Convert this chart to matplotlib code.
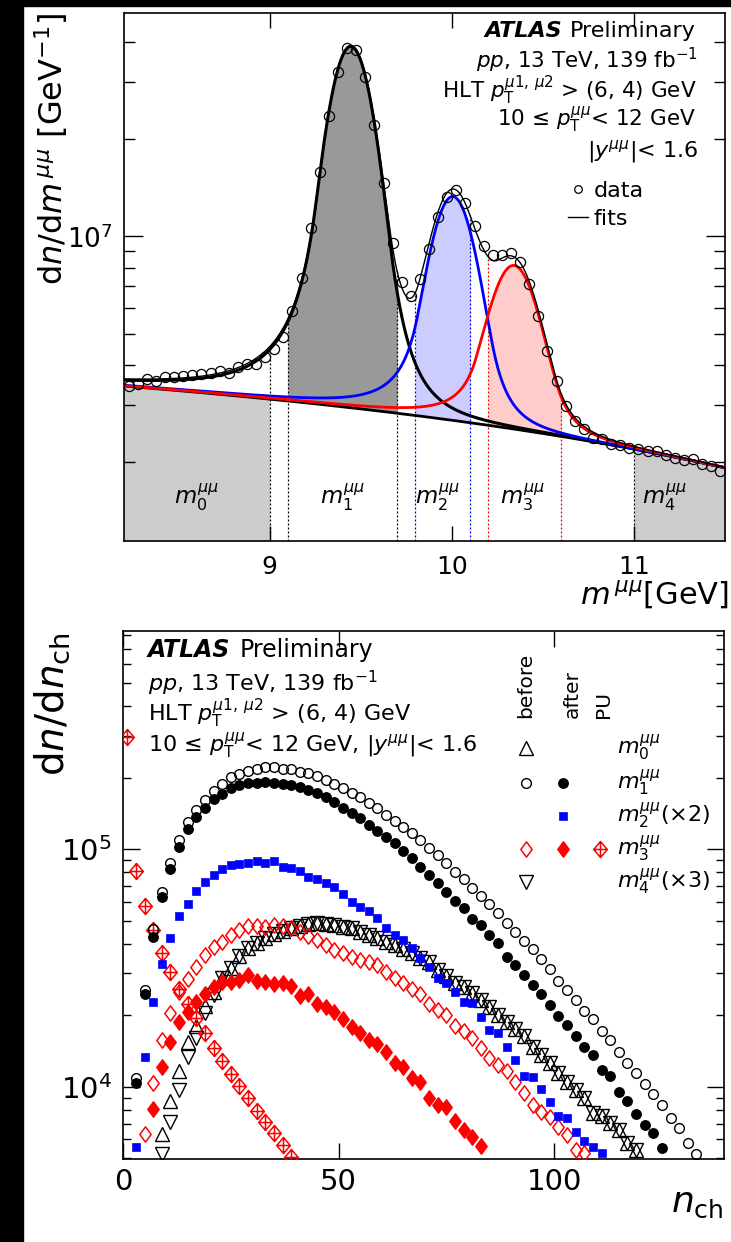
import numpy as np
import matplotlib
matplotlib.use("Agg")
import matplotlib.pyplot as plt
from matplotlib.path import Path
from matplotlib.patches import Rectangle
from matplotlib.ticker import FixedLocator, NullLocator, LogLocator, NullFormatter

plt.rcParams['font.family'] = ['DejaVu Sans']
plt.rcParams['mathtext.fontset'] = 'dejavusans'

# ======================= DATA : top panel =======================
mass_bin_centers = [8.225, 8.275, 8.325, 8.375, 8.425, 8.475, 8.525, 8.575, 8.625, 8.675,
                    8.725, 8.775, 8.825, 8.875, 8.925, 8.975, 9.025, 9.075, 9.125, 9.175,
                    9.225, 9.275, 9.325, 9.375, 9.425, 9.475, 9.525, 9.575, 9.625, 9.675,
                    9.725, 9.775, 9.825, 9.875, 9.925, 9.975, 10.025, 10.075, 10.125, 10.175,
                    10.225, 10.275, 10.325, 10.375, 10.425, 10.475, 10.525, 10.575, 10.625, 10.675,
                    10.725, 10.775, 10.825, 10.875, 10.925, 10.975, 11.025, 11.075, 11.125, 11.175,
                    11.225, 11.275, 11.325, 11.375, 11.425, 11.475]
mass_data = [3.44e6, 3.50e6, 3.63e6, 3.57e6, 3.68e6, 3.68e6, 3.70e6, 3.73e6, 3.75e6, 3.79e6,
             3.84e6, 3.79e6, 3.93e6, 4.04e6, 4.04e6, 4.22e6, 4.48e6, 4.89e6, 5.86e6, 7.45e6,
             1.06e7, 1.58e7, 2.36e7, 3.22e7, 3.83e7, 3.78e7, 3.12e7, 2.22e7, 1.46e7, 9.53e6,
             7.21e6, 6.56e6, 7.39e6, 9.16e6, 1.148e7, 1.325e7, 1.397e7, 1.27e7, 1.08e7, 9.37e6,
             8.73e6, 8.79e6, 8.87e6, 8.32e6, 7.13e6, 5.68e6, 4.43e6, 3.56e6, 2.99e6, 2.68e6,
             2.53e6, 2.38e6, 2.36e6, 2.27e6, 2.26e6, 2.21e6, 2.19e6, 2.165e6, 2.165e6, 2.11e6,
             2.06e6, 2.03e6, 2.05e6, 1.98e6, 1.945e6, 1.88e6]

# fit model: quadratic background in (m - 8.2) + 3 Crystal-Ball peaks
bg_coef = [3.44e6, -0.3553e6, -0.0319e6]
peak_mu = [9.445, 10.005, 10.34]
peak_sigma = [0.118, 0.120, 0.130]
peak_amp = [3.58e7, 1.06e7, 5.6e6]
tail_left = [1.6, 2.0]     # alpha, n
tail_right = [1.8, 4.0]    # alpha, n

sideband_lo = [8.2, 9.0]
window_1 = [9.1, 9.7]
window_2 = [9.8, 10.1]
window_3 = [10.2, 10.6]
sideband_hi = [11.0, 11.5]
window_labels = [r'$m_{\mathit{0}}^{\mu\mu}$', r'$m_{\mathit{1}}^{\mu\mu}$', r'$m_{\mathit{2}}^{\mu\mu}$',
                 r'$m_{\mathit{3}}^{\mu\mu}$', r'$m_{\mathit{4}}^{\mu\mu}$']
window_label_x = [8.6, 9.4, 9.92, 10.39, 11.17]

# ======================= DATA : bottom panel =======================
n_m1_before = list(range(3, 134, 2))
m1_before = [1.09e4, 2.55e4, 4.6e4, 6.63e4, 8.73e4, 1.094e5, 1.307e5, 1.464e5, 1.613e5, 1.767e5,
             1.885e5, 2.01e5, 2.075e5, 2.14e5, 2.17e5, 2.215e5, 2.215e5, 2.18e5, 2.18e5, 2.12e5,
             2.09e5, 2.04e5, 1.96e5, 1.885e5, 1.81e5, 1.73e5, 1.666e5, 1.563e5, 1.489e5, 1.394e5,
             1.316e5, 1.245e5, 1.167e5, 1.094e5, 1.009e5, 9.46e4, 8.73e4, 8.05e4, 7.48e4, 6.86e4,
             6.36e4, 5.89e4, 5.41e4, 4.88e4, 4.5e4, 4.12e4, 3.79e4, 3.46e4, 3.12e4, 2.8e4,
             2.55e4, 2.33e4, 2.09e4, 1.92e4, 1.72e4, 1.58e4, 1.40e4, 1.26e4, 1.145e4, 1.023e4,
             9.31e3, 8.37e3, 7.36e3, 6.68e3, 5.81e3, 5.21e3]
n_m1_after = list(range(3, 126, 2))
m1_after = [1.04e4, 2.45e4, 4.28e4, 6.28e4, 8.24e4, 1.02e5, 1.213e5, 1.364e5, 1.489e5, 1.625e5,
            1.71e5, 1.807e5, 1.866e5, 1.897e5, 1.91e5, 1.927e5, 1.91e5, 1.885e5, 1.866e5, 1.837e5,
            1.78e5, 1.72e5, 1.666e5, 1.586e5, 1.489e5, 1.418e5, 1.351e5, 1.266e5, 1.198e5, 1.124e5,
            1.059e5, 9.86e4, 9.17e4, 8.45e4, 7.8e4, 7.2e4, 6.63e4, 6.07e4, 5.64e4, 5.07e4,
            4.8e4, 4.35e4, 4.02e4, 3.53e4, 3.26e4, 2.95e4, 2.68e4, 2.45e4, 2.21e4, 1.99e4,
            1.82e4, 1.64e4, 1.47e4, 1.36e4, 1.18e4, 1.11e4, 9.53e3, 8.71e3, 7.67e3, 6.9e3,
            6.37e3, 5.5e3]
n_m2_after = list(range(3, 112, 2))
m2_after_x2 = [5.56e3, 1.33e4, 2.27e4, 3.28e4, 4.22e4, 5.24e4, 5.86e4, 6.7e4, 7.26e4, 7.8e4,
               8.24e4, 8.59e4, 8.67e4, 8.79e4, 8.96e4, 8.73e4, 8.96e4, 8.4e4, 8.32e4, 8.13e4,
               7.67e4, 7.5e4, 7.2e4, 6.92e4, 6.46e4, 6.01e4, 5.7e4, 5.51e4, 5.12e4, 4.65e4,
               4.35e4, 4.15e4, 3.83e4, 3.48e4, 3.2e4, 2.86e4, 2.73e4, 2.5e4, 2.28e4, 2.25e4,
               1.96e4, 1.74e4, 1.68e4, 1.47e4, 1.30e4, 1.11e4, 1.10e4, 9.75e3, 8.65e3, 7.53e3,
               7.36e3, 6.43e3, 5.93e3, 5.56e3, 5.25e3]
n_m3_before = list(range(5, 108, 2))
m3_before = [6.31e3, 1.04e4, 1.57e4, 2.04e4, 2.5e4, 2.83e4, 3.2e4, 3.58e4, 3.89e4, 4.08e4,
             4.35e4, 4.57e4, 4.75e4, 4.77e4, 4.72e4, 4.8e4, 4.77e4, 4.65e4, 4.5e4, 4.32e4,
             4.15e4, 3.95e4, 3.77e4, 3.65e4, 3.53e4, 3.42e4, 3.36e4, 3.26e4, 3.05e4, 2.86e4,
             2.73e4, 2.57e4, 2.47e4, 2.23e4, 2.1e4, 2.0e4, 1.8e4, 1.71e4, 1.6e4, 1.45e4,
             1.32e4, 1.23e4, 1.16e4, 1.05e4, 9.38e3, 8.37e3, 7.85e3, 7.48e3, 6.79e3, 6.27e3,
             5.41e3, 5.27e3]
n_m3_after = list(range(7, 84, 2))
m3_after = [8.04e3, 1.21e4, 1.55e4, 1.88e4, 2.07e4, 2.28e4, 2.47e4, 2.62e4, 2.75e4, 2.75e4,
            2.81e4, 2.95e4, 2.8e4, 2.77e4, 2.71e4, 2.73e4, 2.66e4, 2.41e4, 2.45e4, 2.23e4,
            2.17e4, 2.07e4, 1.92e4, 1.79e4, 1.68e4, 1.58e4, 1.51e4, 1.40e4, 1.26e4, 1.21e4,
            1.085e4, 1.05e4, 9.0e3, 8.37e3, 8.24e3, 7.2e3, 6.58e3, 6.16e3, 5.62e3]
n_m3_pu = list(range(1, 40, 2))
m3_pu = [2.97e5, 8.13e4, 5.78e4, 4.57e4, 3.66e4, 3.05e4, 2.57e4, 2.24e4, 1.94e4, 1.68e4,
         1.45e4, 1.29e4, 1.13e4, 1.007e4, 8.93e3, 7.92e3, 7.08e3, 6.37e3, 5.68e3, 5.07e3]
n_m0_before = list(range(9, 120, 2))
m0_before = [6.31e3, 8.73e3, 1.16e4, 1.55e4, 1.8e4, 2.19e4, 2.5e4, 2.86e4, 3.16e4, 3.55e4,
             3.83e4, 4.05e4, 4.22e4, 4.4e4, 4.54e4, 4.65e4, 4.75e4, 4.84e4, 4.88e4, 4.84e4,
             4.8e4, 4.72e4, 4.65e4, 4.5e4, 4.35e4, 4.22e4, 4.08e4, 3.95e4, 3.79e4, 3.65e4,
             3.48e4, 3.36e4, 3.1e4, 2.93e4, 2.74e4, 2.64e4, 2.49e4, 2.33e4, 2.17e4, 2.0e4,
             1.88e4, 1.75e4, 1.64e4, 1.47e4, 1.36e4, 1.26e4, 1.14e4, 1.05e4, 9.68e3, 8.93e3,
             7.73e3, 7.53e3, 7.02e3, 6.58e3, 5.78e3, 5.41e3]
n_m4_before = list(range(9, 120, 2))
m4_before_x3 = [5.21e3, 7.13e3, 9.68e3, 1.34e4, 1.61e4, 2.04e4, 2.43e4, 2.86e4, 3.16e4, 3.55e4,
                3.83e4, 4.05e4, 4.22e4, 4.4e4, 4.54e4, 4.65e4, 4.75e4, 4.84e4, 4.88e4, 4.84e4,
                4.8e4, 4.72e4, 4.65e4, 4.5e4, 4.35e4, 4.22e4, 4.08e4, 3.95e4, 3.79e4, 3.65e4,
                3.48e4, 3.36e4, 3.1e4, 2.93e4, 2.74e4, 2.64e4, 2.49e4, 2.33e4, 2.17e4, 2.0e4,
                1.88e4, 1.75e4, 1.64e4, 1.47e4, 1.36e4, 1.26e4, 1.14e4, 1.05e4, 9.68e3, 8.93e3,
                7.73e3, 7.53e3, 7.02e3, 6.58e3, 5.78e3, 5.41e3]

# ======================= helpers =======================
def cball(m, mu, sig):
    m = np.asarray(m, float)
    t = (m - mu) / sig
    aL, nL = tail_left
    aR, nR = tail_right
    AL = (nL / aL) ** nL * np.exp(-0.5 * aL ** 2); BL = nL / aL - aL
    AR = (nR / aR) ** nR * np.exp(-0.5 * aR ** 2); BR = nR / aR - aR
    with np.errstate(all='ignore'):
        out = np.exp(-0.5 * t ** 2)
        out = np.where(t < -aL, AL * np.abs(BL - t) ** (-nL), out)
        out = np.where(t > aR, AR * np.abs(BR + t) ** (-nR), out)
    return out

def background(m):
    u = np.asarray(m, float) - 8.2
    return bg_coef[0] + bg_coef[1] * u + bg_coef[2] * u * u

def peak(i, m):
    return peak_amp[i] * cball(m, peak_mu[i], peak_sigma[i])

def total(m):
    return background(m) + peak(0, m) + peak(1, m) + peak(2, m)

W, H = 731, 1242
fig = plt.figure(figsize=(W / 100, H / 100), dpi=100)

def rect(x0, y0, x1, y1):
    return [x0 / W, 1 - y1 / H, (x1 - x0) / W, (y1 - y0) / H]

fig.patches.append(Rectangle((0, 0), 23 / W, 1, transform=fig.transFigure, color='k', zorder=-5))
fig.patches.append(Rectangle((0, 1 - 6 / H), 1, 6 / H, transform=fig.transFigure, color='k', zorder=-5))

BLUE = '#0000ff'
RED = '#ff0000'

# ======================= top panel =======================
ax1 = fig.add_axes(rect(124, 12.7, 725, 541))
xlo1, xhi1 = 8.2, 11.5
ylo1, yhi1 = 1.14e6, 4.93e7
ax1.set_xlim(xlo1, xhi1)
ax1.set_yscale('log')
ax1.set_ylim(ylo1, yhi1)

mm = np.linspace(xlo1, xhi1, 1500)

def grid(w):
    return np.linspace(w[0], w[1], 300)

g = grid(sideband_lo)
ax1.fill_between(g, ylo1, background(g), color='#cccccc', lw=0, zorder=1)
g = grid(sideband_hi)
ax1.fill_between(g, ylo1, background(g), color='#cccccc', lw=0, zorder=1)
g = grid(window_1)
ax1.fill_between(g, background(g), background(g) + peak(0, g), color='#999999', lw=0, zorder=1)
g = grid(window_2)
ax1.fill_between(g, background(g), background(g) + peak(1, g), color='#ccccff', lw=0, zorder=1)
g = grid(window_3)
ax1.fill_between(g, background(g), background(g) + peak(2, g), color='#ffcccc', lw=0, zorder=1)

bounds = [(sideband_lo[1], 'k'), (window_1[0], 'k'), (window_1[1], 'k'),
          (window_2[0], BLUE), (window_2[1], BLUE), (window_3[0], RED), (window_3[1], RED),
          (sideband_hi[0], 'k')]
for xb, c in bounds:
    ax1.vlines(xb, ylo1, float(total(np.array([xb]))[0]), colors=c, lw=0.9,
               linestyles=(0, (1.6, 1.6)), zorder=2)

bgm = background(mm)
ax1.plot(mm, bgm, color='k', lw=2.0, zorder=3)
ax1.plot(mm, bgm + peak(0, mm), color='k', lw=2.2, zorder=3)
ax1.plot(mm, bgm + peak(1, mm), color=BLUE, lw=2.0, zorder=3)
ax1.plot(mm, bgm + peak(2, mm), color=RED, lw=2.0, zorder=3)
ax1.plot(mm, total(mm), color='k', lw=1.0, zorder=4)
ax1.plot(mass_bin_centers, mass_data, 'o', ms=7.3, mfc='none', mec='k', mew=0.9, ls='none', zorder=5)

for xl, lab in zip(window_label_x, window_labels):
    ax1.text(xl, 0.083, lab, transform=ax1.get_xaxis_transform(), ha='center', va='center',
             fontsize=16.5, zorder=6)

ax1.xaxis.set_major_locator(FixedLocator([9, 10, 11]))
ax1.xaxis.set_minor_locator(NullLocator())
ax1.yaxis.set_major_locator(LogLocator(base=10, numticks=10))
ax1.yaxis.set_minor_locator(LogLocator(base=10, subs=np.arange(2, 10), numticks=10))
ax1.yaxis.set_minor_formatter(NullFormatter())
ax1.tick_params(which='both', direction='in', top=True, right=True, width=1.0)
ax1.tick_params(axis='x', which='major', length=10.8, labelsize=18, pad=10)
ax1.tick_params(axis='y', which='major', length=13.4, labelsize=19, pad=8)
ax1.tick_params(axis='y', which='minor', length=8)
for s in ax1.spines.values():
    s.set_linewidth(1.2)

ax1.text(1.0067, -0.121, r'$m^{\,\mu\mu}$[GeV]', transform=ax1.transAxes, ha='right',
         va='baseline', fontsize=22)
ax1.text(-0.1215, 0.9994, r'd$n$/d$m^{\,\mu\mu}$ [GeV$^{-1}$]', transform=ax1.transAxes,
         rotation=90, ha='center', va='top', fontsize=23)

renderer = fig.canvas.get_renderer()
TS = 15.5
tp = ax1.text(0.952, 0.954, 'Preliminary', transform=ax1.transAxes, ha='right', va='baseline', fontsize=TS + 0.5)
bb = tp.get_window_extent(renderer=renderer)
xa = ax1.transAxes.inverted().transform((bb.x0, bb.y0))[0]
ax1.text(xa - 0.013, 0.954, 'ATLAS', transform=ax1.transAxes, ha='right', va='baseline',
         fontsize=TS + 0.5, fontweight='bold', fontstyle='italic')
ax1.text(0.955, 0.8953, r'$pp$, 13 TeV, 139 fb$^{-1}$', transform=ax1.transAxes, ha='right',
         va='baseline', fontsize=TS)
ax1.text(0.952, 0.8390, r'HLT $p_{\mathrm{T}}^{\mu \mathit{1},\,\mu \mathit{2}}$ > (6, 4) GeV',
         transform=ax1.transAxes, ha='right', va='baseline', fontsize=TS)
ax1.text(0.952, 0.7850, r'10 ≤ $p_{\mathrm{T}}^{\mu\mu}$< 12 GeV', transform=ax1.transAxes,
         ha='right', va='baseline', fontsize=TS)
ax1.text(0.955, 0.7269, r'|$y^{\mu\mu}$|< 1.6', transform=ax1.transAxes, ha='right',
         va='baseline', fontsize=TS + 0.5)
ax1.plot([0.755], [0.6657], 'o', ms=5.5, mfc='none', mec='k', mew=0.9, transform=ax1.transAxes,
         clip_on=False)
ax1.text(0.781, 0.6517, 'data', transform=ax1.transAxes, ha='left', va='baseline', fontsize=16)
ax1.plot([0.7393, 0.7725], [0.614, 0.614], color='k', lw=1.0, transform=ax1.transAxes, clip_on=False)
ax1.text(0.781, 0.598, 'fits', transform=ax1.transAxes, ha='left', va='baseline', fontsize=16)

# ======================= bottom panel =======================
ax2 = fig.add_axes(rect(123, 631, 724, 1159.3))
ax2.set_xlim(0, 139.4)
ax2.set_yscale('log')
ax2.set_ylim(4.95e3, 8.3e5)

dverts = [(0, 1), (0.74, 0), (0, -1), (-0.74, 0), (0, 1)]
diamond = Path(dverts, [Path.MOVETO, Path.LINETO, Path.LINETO, Path.LINETO, Path.CLOSEPOLY])
cverts = [(0, 1), (0.85, 0), (0, -1), (-0.85, 0), (0, 1)]
cross_diamond = Path(cverts + [(0, 1), (0, -1), (-0.85, 0), (0.85, 0)],
                     [Path.MOVETO, Path.LINETO, Path.LINETO, Path.LINETO, Path.CLOSEPOLY,
                      Path.MOVETO, Path.LINETO, Path.MOVETO, Path.LINETO])

sty = {
    'm1b': dict(marker='o', ms=7.0, mfc='none', mec='k', mew=1.0),
    'm1a': dict(marker='o', ms=6.8, mfc='k', mec='k', mew=1.0),
    'm2a': dict(marker='s', ms=6.0, mfc=BLUE, mec=BLUE, mew=0.5),
    'm3b': dict(marker=diamond, ms=11.0, mfc='none', mec=RED, mew=1.1),
    'm3a': dict(marker=diamond, ms=11.0, mfc=RED, mec=RED, mew=1.1),
    'm3p': dict(marker=cross_diamond, ms=11.5, mfc='none', mec=RED, mew=1.1),
    'm0b': dict(marker='^', ms=10.0, mfc='none', mec='k', mew=1.0),
    'm4b': dict(marker='v', ms=10.0, mfc='none', mec='k', mew=1.0),
}
ax2.plot(n_m0_before, m0_before, ls='none', zorder=3, **sty['m0b'])
ax2.plot(n_m4_before, m4_before_x3, ls='none', zorder=3, **sty['m4b'])
ax2.plot(n_m3_before, m3_before, ls='none', zorder=3, **sty['m3b'])
ax2.plot(n_m3_after, m3_after, ls='none', zorder=3, **sty['m3a'])
ax2.plot(n_m3_pu, m3_pu, ls='none', zorder=3, **sty['m3p'])
ax2.plot(n_m2_after, m2_after_x2, ls='none', zorder=4, **sty['m2a'])
ax2.plot(n_m1_before, m1_before, ls='none', zorder=4, **sty['m1b'])
ax2.plot(n_m1_after, m1_after, ls='none', zorder=4, **sty['m1a'])

ax2.xaxis.set_major_locator(FixedLocator([0, 50, 100]))
ax2.xaxis.set_minor_locator(NullLocator())
ax2.yaxis.set_major_locator(LogLocator(base=10, numticks=10))
ax2.yaxis.set_minor_locator(LogLocator(base=10, subs=np.arange(2, 10), numticks=10))
ax2.yaxis.set_minor_formatter(NullFormatter())
ax2.tick_params(which='both', direction='in', top=True, right=True, width=1.0)
ax2.tick_params(axis='x', which='major', length=11.5, labelsize=21, pad=6.5)
ax2.tick_params(axis='y', which='major', length=12, labelsize=21, pad=8)
ax2.tick_params(axis='y', which='minor', length=6)
for s in ax2.spines.values():
    s.set_linewidth(1.2)

ax2.text(1.0, -0.0998, r'$n_{\mathrm{ch}}$', transform=ax2.transAxes, ha='right', va='baseline',
         fontsize=26)
ax2.text(-0.118, 0.998, r'd$n$/d$n_{\mathrm{ch}}$', transform=ax2.transAxes, rotation=90,
         ha='center', va='top', fontsize=28)

TS2 = 16
ta = ax2.text(0.0416, 0.9513, 'ATLAS', transform=ax2.transAxes, ha='left', va='baseline',
              fontsize=TS2 + 1, fontweight='bold', fontstyle='italic')
bb = ta.get_window_extent(renderer=renderer)
xa = ax2.transAxes.inverted().transform((bb.x1, bb.y0))[0]
ax2.text(xa + 0.015, 0.9513, 'Preliminary', transform=ax2.transAxes, ha='left', va='baseline',
         fontsize=TS2 + 1)
ax2.text(0.0416, 0.886, r'$pp$, 13 TeV, 139 fb$^{-1}$', transform=ax2.transAxes, ha='left',
         va='baseline', fontsize=TS2)
ax2.text(0.0416, 0.8290, r'HLT $p_{\mathrm{T}}^{\mu \mathit{1},\,\mu \mathit{2}}$ > (6, 4) GeV',
         transform=ax2.transAxes, ha='left', va='baseline', fontsize=TS2)
ax2.text(0.0416, 0.7695, r'10 ≤ $p_{\mathrm{T}}^{\mu\mu}$< 12 GeV, |$y^{\mu\mu}$|< 1.6',
         transform=ax2.transAxes, ha='left', va='baseline', fontsize=TS2)

# legend (drawn by hand in ROOT layout)
col_x = {'before': 0.6705, 'after': 0.7321, 'PU': 0.7937}
head_x = {'before': 0.6705, 'after': 0.747, 'PU': 0.800}
for k, xh in head_x.items():
    ax2.text(xh, 0.835, k, transform=ax2.transAxes, rotation=90, ha='center', va='bottom',
             fontsize=14.5)
rows = [
    (0.7785, r'$m_{\mathit{0}}^{\mu\mu}$', [('before', 'm0b')]),
    (0.7128, r'$m_{\mathit{1}}^{\mu\mu}$', [('before', 'm1b'), ('after', 'm1a')]),
    (0.6504, r'$m_{\mathit{2}}^{\mu\mu}$(×2)', [('after', 'm2a')]),
    (0.5868, r'$m_{\mathit{3}}^{\mu\mu}$', [('before', 'm3b'), ('after', 'm3a'), ('PU', 'm3p')]),
    (0.5255, r'$m_{\mathit{4}}^{\mu\mu}$(×3)', [('before', 'm4b')]),
]
for yr, lab, marks in rows:
    for col, key in marks:
        ax2.plot([col_x[col]], [yr], transform=ax2.transAxes, ls='none', clip_on=False, **sty[key])
    ax2.text(0.822, yr, lab, transform=ax2.transAxes, ha='left', va='center', fontsize=16)

fig.savefig('out.png', dpi=100)
